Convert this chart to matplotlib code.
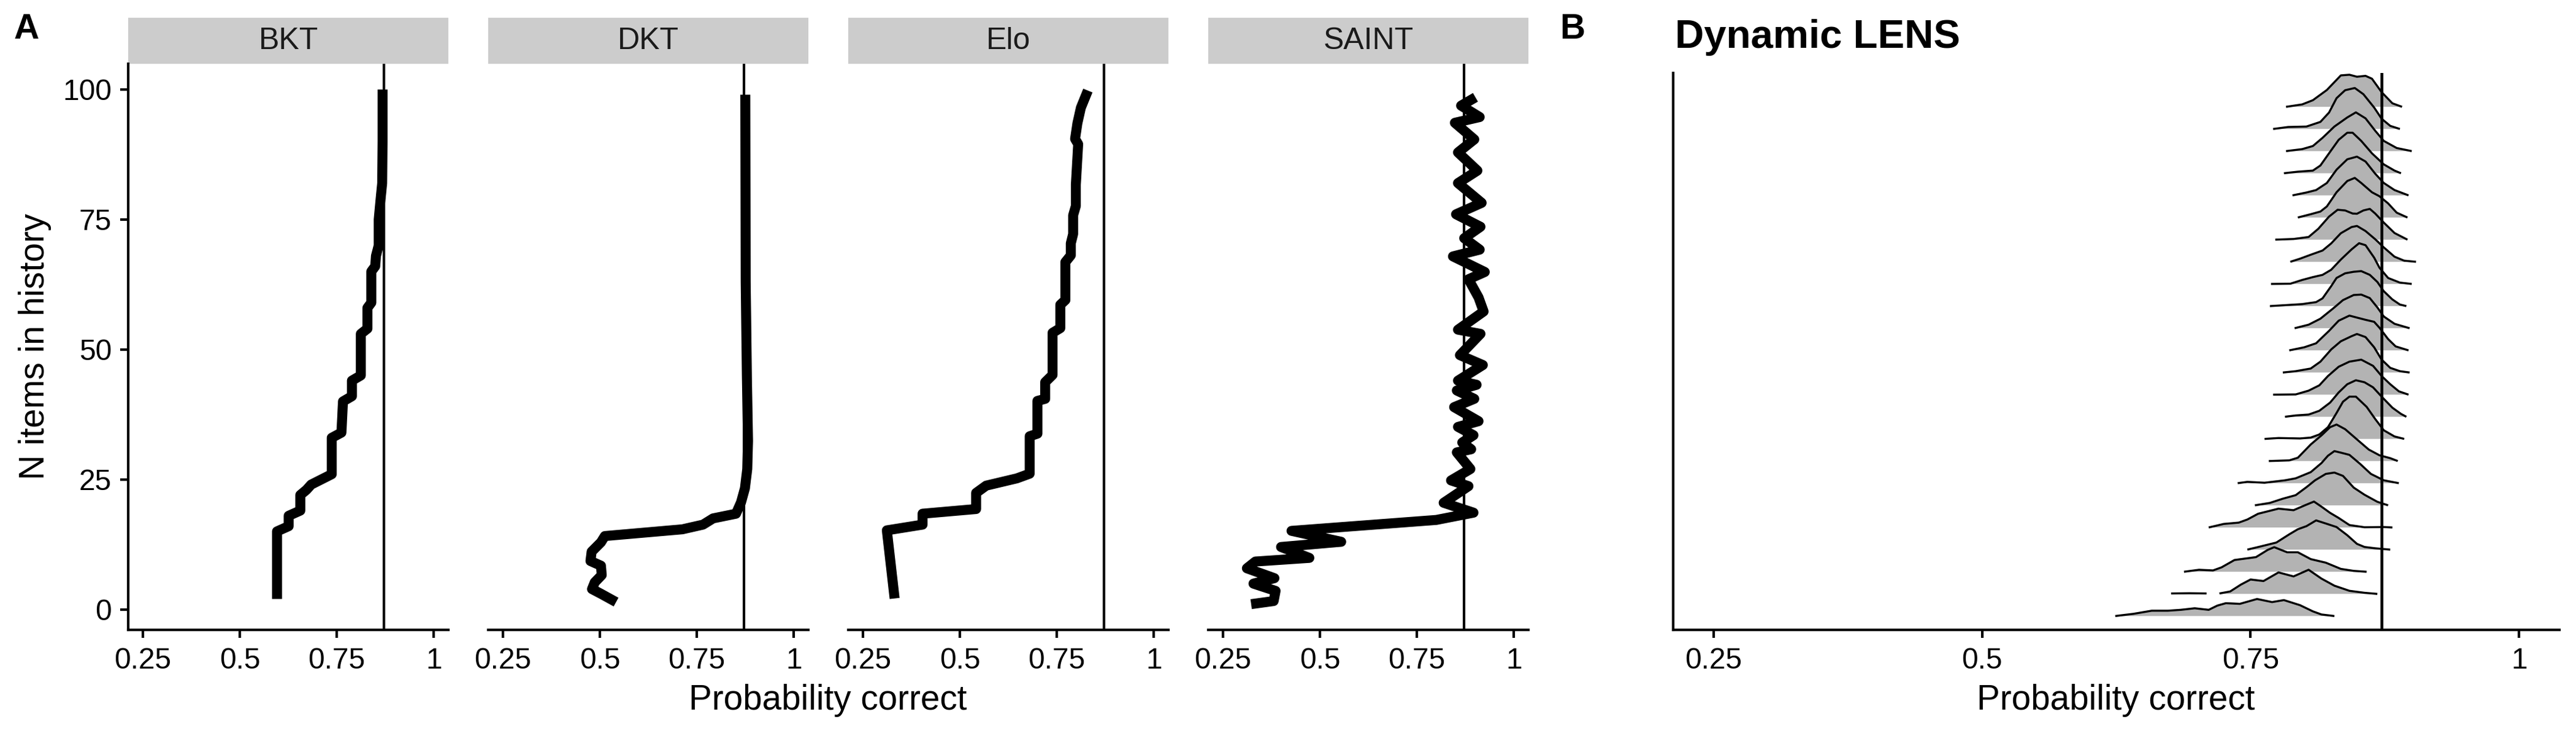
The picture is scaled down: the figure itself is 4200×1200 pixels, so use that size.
import matplotlib
matplotlib.use('Agg')
import matplotlib.pyplot as plt
import numpy as np
from matplotlib.patches import Rectangle

plt.rcParams['font.family'] = ['Liberation Sans', 'DejaVu Sans']

# ---- panel A data: probability correct vs N items in history ----
models = ['BKT', 'DKT', 'Elo', 'SAINT']

bkt_n = [2, 15, 16, 18, 19, 22, 23, 24, 26, 33, 34, 40, 41, 44, 45, 53, 54, 58,
         59, 65, 66, 68, 70, 75, 79, 82, 90, 100]
bkt_p = [.596, .596, .626, .626, .656, .656, .672, .684, .737, .737, .762, .766,
         .789, .789, .812, .812, .829, .829, .839, .839, .849, .851, .858, .858,
         .863, .867, .868, .868]

dkt_n = [1.4, 3, 3.9, 5.2, 6.6, 8.4, 9.3, 11.1, 12.9, 14.1, 15.4, 16.3, 17.5,
         18.4, 20.6, 23.3, 27, 32.4, 45, 63, 99]
dkt_p = [.542, .503, .480, .487, .505, .503, .476, .479, .503, .513, .713, .766,
         .792, .851, .864, .874, .880, .882, .879, .876, .875]

elo_n = [2.1, 15.2, 16.3, 18.4, 19.3, 22.4, 23.8, 25.2, 26.1, 33.3, 33.8, 40.1,
         40.5, 43.7, 45.1, 53.2, 54.1, 58.6, 59.5, 66.8, 68.1, 70.4, 72.2, 75.8,
         77.6, 81.7, 89.5, 90.5, 93.5, 96.5, 99.8]
elo_p = [.332, .312, .404, .404, .542, .542, .568, .647, .680, .680, .700, .700,
         .720, .720, .739, .739, .759, .759, .772, .772, .786, .786, .792, .792,
         .799, .799, .805, .797, .803, .812, .830]

saint_n = [1, 1.6, 3.55, 4.95, 6.0, 7.9, 9.2, 9.9, 12.0, 13.0, 15.1,
           17.2, 18.6, 20.5, 23.7, 24.8, 27.0, 30.2, 30.8, 32.1, 33.5,
           35.1, 36.2, 38.9, 40.5, 42.1, 43.2, 44.0, 47.0, 48.9, 53.0,
           53.8, 57.3, 60.0, 63.5, 64.9, 67.9, 69.2, 71.4, 73.6, 76.0,
           78.2, 82.0, 84.4, 87.9, 90.4, 93.6, 94.7, 96.9, 98.5]
saint_p = [.323, .381, .386, .329, .383, .312, .334, .473, .400, .555, .427,
           .800, .896, .819, .883, .838, .888, .853, .890, .867, .896,
           .856, .909, .846, .898, .853, .904, .856, .920, .861, .914,
           .856, .922, .909, .883, .925, .843, .912, .872, .914, .851,
           .917, .856, .906, .856, .898, .848, .912, .864, .901]

series_n = [bkt_n, dkt_n, elo_n, saint_n]
series_p = [bkt_p, dkt_p, elo_p, saint_p]

ref_p = 0.872

x_ticks = [0.25, 0.5, 0.75, 1]
x_labels = ['0.25', '0.5', '0.75', '1']
y_ticks = [0, 25, 50, 75, 100]

# ---- panel B data: ridges (bottom = fewest items), x = prob, h = scaled density ----
nan = float('nan')
ridge_x = [
    [.624, .641, .658, .673, .685, .698, .711, .719, .727, .740, .756, .770, .781, .796, .808, .816, .828],
    [.676, .693, .709, nan, .721, .731, .741, .750, .762, .776, .790, .804, .816, .828, .842, .856, .868],
    [.688, .702, .715, .723, .735, .755, .766, .772, .784, .794, .806, .820, .834, .846, .858],
    [.747, .759, .774, .786, .794, .802, .811, .820, .830, .840, .849, .856, .866, .880],
    [.711, .725, .739, .747, .757, .776, .790, .800, .809, .816, .824, .832, .842, .856, .874, .882],
    [.754, .768, .780, .792, .802, .810, .820, .828, .836, .846, .856, .868, .878],
    [.738, .747, .763, .782, .792, .806, .816, .822, .828, .834, .842, .852, .862, .874, .888],
    [.767, .786, .794, .806, .816, .824, .830, .838, .848, .860, .870, .880, .887],
    [.763, .776, .796, .806, .814, .822, .830, .836, .842, .848, .858, .866, .874, .884, .893],
    [.782, .792, .804, .814, .824, .832, .840, .848, .856, .864, .872, .882, .890, .895],
    [.771, .792, .804, .814, .822, .832, .842, .853, .864, .872, .880, .888, .897],
    [.780, .792, .806, .815, .825, .834, .844, .849, .857, .865, .872, .880, .889, .898],
    [.786, .800, .811, .823, .832, .842, .849, .857, .865, .870, .878, .885, .897],
    [.791, .804, .815, .827, .836, .846, .853, .861, .868, .874, .884, .898],
    [.768, .785, .798, .811, .817, .825, .830, .838, .846, .853, .861, .868, .874, .882, .889, .895],
    [.769, .787, .798, .808, .817, .825, .834, .844, .851, .857, .865, .870, .878, .889, .900],
    [.787, .796, .806, .817, .825, .834, .844, .849, .857, .866, .874, .884, .893, .904],
    [.773, .790, .804, .813, .823, .831, .838, .845, .849, .855, .861, .866, .874, .884, .896],
    [.794, .806, .815, .821, .830, .840, .847, .853, .863, .870, .878, .886, .896],
    [.789, .802, .811, .821, .830, .840, .849, .857, .866, .874, .884, .897],
    [.781, .794, .808, .815, .823, .832, .840, .845, .853, .863, .874, .884, .890],
    [.783, .798, .808, .817, .828, .840, .848, .857, .866, .874, .886, .900],
    [.771, .785, .802, .815, .823, .830, .838, .847, .855, .865, .872, .880, .889],
    [.783, .798, .808, .821, .834, .842, .849, .857, .863, .872, .882, .891],
]
ridge_h = [
    [0, .10, .24, .24, .28, .35, .28, .47, .58, .55, .77, .63, .72, .49, .21, .07, 0],
    [.02, .03, .02, nan, .02, .11, .42, .65, .58, .97, .79, 1.09, .69, .37, .14, .05, 0],
    [0, .09, .06, .20, .53, .66, .99, 1.11, .88, .88, .57, .41, .13, .04, 0],
    [0, .14, .32, .69, .92, 1.06, 1.32, 1.18, 1.02, .65, .26, .12, .06, 0],
    [0, .16, .22, .36, .62, .85, .78, .99, 1.17, .94, .66, .43, .11, .01, .02, 0],
    [0, .11, .30, .46, .82, 1.13, 1.42, 1.48, 1.33, .80, .48, .16, 0],
    [0, .06, .02, .13, .22, .50, .91, 1.24, 1.45, 1.38, 1.28, .87, .42, .13, 0],
    [0, .03, .15, .75, 1.16, 1.53, 1.65, 1.44, 1.02, .52, .26, .13, 0],
    [0, .04, .02, .06, .20, .53, 1.17, 1.68, 1.91, 1.91, 1.45, .90, .39, .11, 0],
    [0, .06, .10, .27, .64, 1.10, 1.47, 1.65, 1.56, 1.33, .91, .41, .13, 0],
    [0, .01, .18, .42, .84, 1.26, 1.49, 1.58, 1.30, .84, .47, .15, 0],
    [0, .06, .18, .49, 1.04, 1.41, 1.64, 1.74, 1.60, 1.14, .58, .21, .06, 0],
    [0, .14, .32, .88, 1.34, 1.57, 1.48, 1.38, 1.29, 1.02, .51, .18, 0],
    [0, .16, .43, .90, 1.27, 1.50, 1.52, 1.36, .94, .53, .20, 0],
    [0, .05, .09, .18, .35, .90, 1.27, 1.48, 1.55, 1.58, 1.41, 1.09, .67, .30, .07, 0],
    [0, .01, .18, .31, .41, .64, 1.10, 1.56, 1.84, 1.75, 1.19, .73, .27, .06, 0],
    [0, .14, .32, .51, .83, 1.29, 1.57, 1.62, 1.39, 1.02, .65, .23, .05, 0],
    [0, .03, .12, .49, 1.04, 1.35, 1.32, 1.18, 1.17, 1.32, 1.39, 1.18, .77, .30, 0],
    [0, .15, .27, .50, 1.14, 1.65, 1.79, 1.56, 1.14, .96, .64, .22, 0],
    [0, .13, .24, .56, 1.16, 1.63, 1.75, 1.53, .98, .56, .24, 0],
    [0, .07, .12, .35, .90, 1.51, 1.83, 1.83, 1.46, .90, .40, .12, 0],
    [0, .09, .23, .60, 1.11, 1.52, 1.75, 1.48, .92, .46, .14, 0],
    [0, .09, .11, .32, .74, 1.39, 1.75, 1.85, 1.57, .97, .46, .14, 0],
    [0, .11, .30, .76, 1.42, 1.45, 1.36, 1.40, 1.27, .66, .16, 0],
]

W, H = 4200, 1200
fig = plt.figure(figsize=(14, 4), dpi=300)

xlim = (0.2125, 1.0375)
tick_kw = dict(length=3.1, width=1.0, labelsize=11.5, colors='black')


def style_axis(ax):
    for s in ['top', 'right']:
        ax.spines[s].set_visible(False)
    for s in ['left', 'bottom']:
        ax.spines[s].set_linewidth(1.0)
    ax.set_xlim(*xlim)
    ax.set_xticks(x_ticks)
    ax.set_xticklabels(x_labels)
    ax.tick_params(axis='x', pad=3.5, **tick_kw)
    ax.tick_params(axis='y', pad=3.4, **tick_kw)


# facets of panel A
a_left = [209, 796, 1383, 1970]
a_w, a_top, a_bot = 522, 104, 1027
strip_h = 75
for i, name in enumerate(models):
    ax = fig.add_axes([a_left[i] / W, 1 - a_bot / H, a_w / W, (a_bot - a_top) / H])
    style_axis(ax)
    ax.set_ylim(-3.95, 104.95)
    ax.axvline(ref_p, color='black', lw=1.0, zorder=1)
    ax.plot(series_p[i], series_n[i], color='black', lw=3.9,
            solid_capstyle='butt', solid_joinstyle='round', zorder=2)
    if i == 0:
        ax.set_yticks(y_ticks)
    else:
        ax.spines['left'].set_visible(False)
        ax.set_yticks([])
    ax.add_patch(Rectangle((0, 1), 1, strip_h / (a_bot - a_top), transform=ax.transAxes,
                           facecolor='#CCCCCC', edgecolor='none', clip_on=False))
    ax.text(0.5, 1 + strip_h / 2 / (a_bot - a_top), name, transform=ax.transAxes,
            ha='center', va='center', fontsize=12, color='#1A1A1A')

fig.text(57 / W, 1 - 565 / H, 'N items in history', rotation=90,
         ha='center', va='center', fontsize=13.6)
fig.text(1350 / W, 1 - 1157 / H, 'Probability correct', ha='center',
         va='baseline', fontsize=13.6)

# panel B ridgeline
b_left, b_right, b_top, b_bot = 2728, 4173, 118.6, 1027
axb = fig.add_axes([b_left / W, 1 - b_bot / H, (b_right - b_left) / W, (b_bot - b_top) / H])
style_axis(axb)
axb.set_yticks([])
axb.set_ylim(0.374, 25.54)
n_ridges = len(ridge_x)
for k in range(n_ridges - 1, -1, -1):
    xs = np.array(ridge_x[k], dtype=float)
    ys = k + 1 + np.array(ridge_h[k], dtype=float)
    z = 2 + (n_ridges - k) * 0.1
    axb.fill_between(xs, k + 1, ys, where=~np.isnan(ys), facecolor='#B3B3B3',
                     edgecolor='none', zorder=z)
    axb.plot(xs, ys, color='black', lw=0.8, solid_joinstyle='round',
             solid_capstyle='butt', zorder=z + 0.05)
axb.axvline(ref_p, color='black', lw=1.1, zorder=10)

fig.text(2731 / W, 1 - 78 / H, 'Dynamic LENS', ha='left', va='baseline',
         fontsize=15.7, fontweight='bold')
fig.text(3450 / W, 1 - 1157 / H, 'Probability correct', ha='center',
         va='baseline', fontsize=13.6)

fig.text(23 / W, 1 - 63 / H, 'A', ha='left', va='baseline', fontsize=13.7, fontweight='bold')
fig.text(2543 / W, 1 - 63 / H, 'B', ha='left', va='baseline', fontsize=13.7, fontweight='bold')

fig.savefig('out.png', dpi=300, facecolor='white')
